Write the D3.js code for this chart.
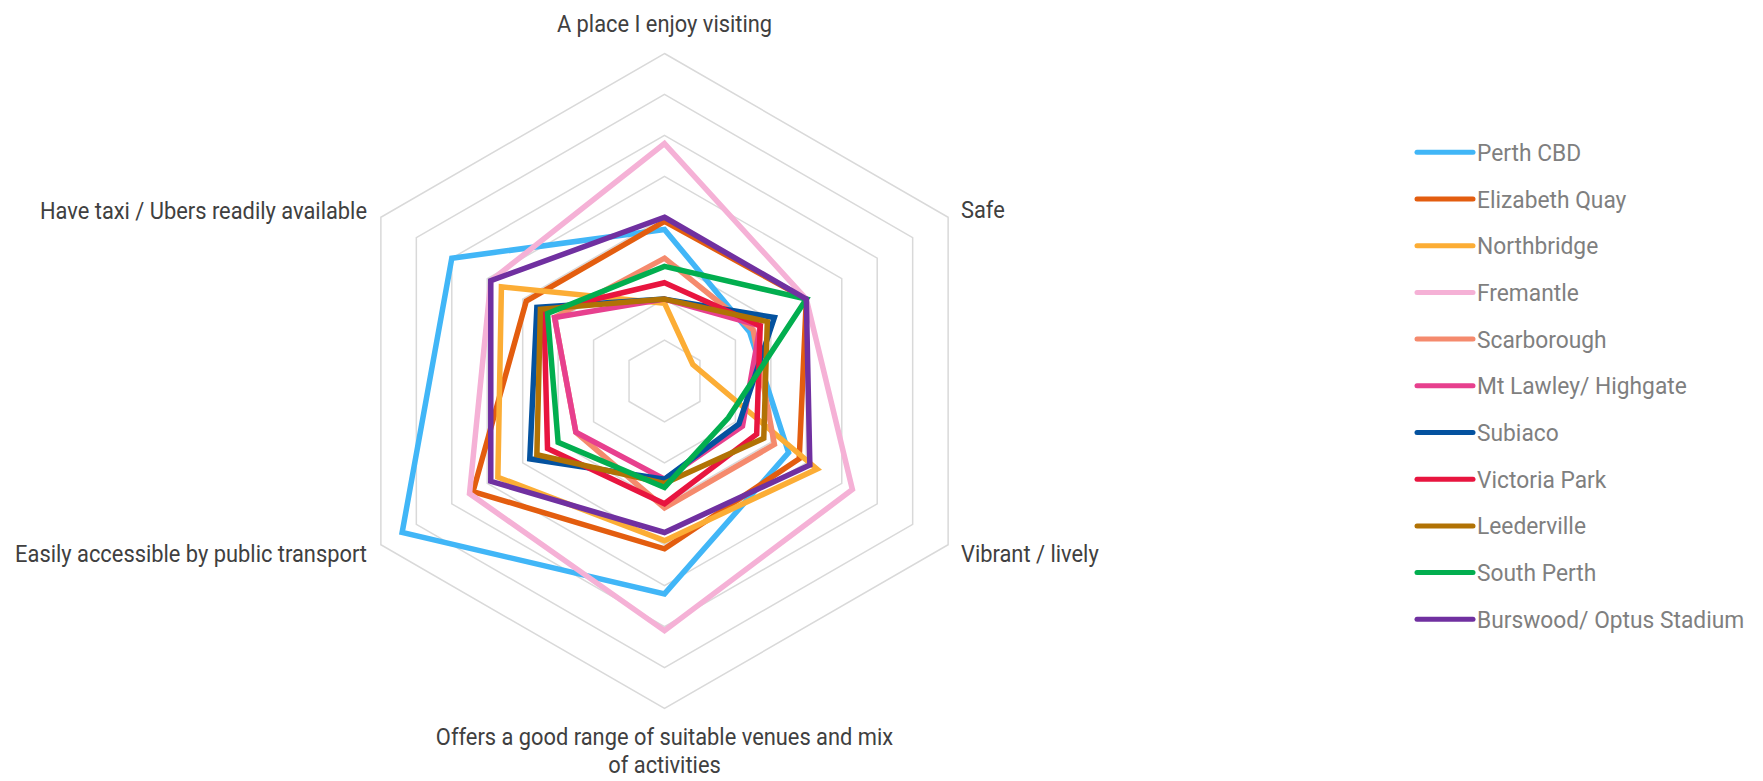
<!DOCTYPE html>
<html lang="en"><head>
<meta charset="utf-8"/>
<title>Radar chart</title>
<script src="https://d3js.org/d3.v7.min.js"></script>
<style>
    body { width: 1763px; height: 781px; margin: 0; padding: 0; background: #fff;
        font-family: 'Liberation Sans Narrow', 'Arial Narrow', 'Roboto', sans-serif; }
    #chart svg { display: block; }
</style>
</head>
<body>
<div id="chart"></div>
<script>
    // Axes, clockwise from the top
    const axes = [
        "A place I enjoy visiting",
        "Safe",
        "Vibrant / lively",
        "Offers a good range of suitable venues and mix of activities",
        "Easily accessible by public transport",
        "Have taxi / Ubers readily available"
    ];
    const ticks = [10, 20, 30, 40, 50, 60, 70, 80];

    const seriesNames = ["Perth CBD", "Elizabeth Quay", "Northbridge", "Fremantle", "Scarborough",
        "Mt Lawley/ Highgate", "Subiaco", "Victoria Park", "Leederville", "South Perth", "Burswood/ Optus Stadium"];
    const colors = ["#41b6f7", "#e35d0f", "#fcad35", "#f5b1d6", "#f58a6d",
        "#e7408e", "#04529f", "#e8153f", "#b17204", "#02ae4f", "#7030a0"];

    // one array per series, same order as axes
    const perthCbd      = [37, 24, 35, 52, 74, 60];
    const elizabethQuay = [39, 40, 38, 41, 54, 39];
    const northbridge   = [19,  8, 43, 39, 47, 46];
    const fremantle     = [58, 40, 53, 61, 55, 49];
    const scarborough   = [30, 25, 31, 31, 25, 31];
    const mtLawley      = [20, 27, 22, 24, 25, 31];
    const subiaco       = [20, 31, 21, 24, 38, 36];
    const victoriaPark  = [24, 27, 26, 30, 33, 34];
    const leederville   = [20, 29, 28, 25, 36, 35];
    const southPerth    = [28, 40, 18, 26, 30, 33];
    const burswood      = [40, 40, 41, 37, 49, 49];

    const values = [perthCbd, elizabethQuay, northbridge, fremantle, scarborough,
        mtLawley, subiaco, victoriaPark, leederville, southPerth, burswood];

    const W = 1763, H = 781;
    const cx = 664.5, cy = 381, R = 327.5;

    const svg = d3.select("#chart").append("svg")
        .attr("width", W).attr("height", H);

    const r = d3.scaleLinear().domain([0, 80]).range([0, R]);
    const angle = d3.scaleLinear().domain([0, axes.length]).range([0, 2 * Math.PI]);

    const g = svg.append("g").attr("transform", `translate(${cx},${cy})`);

    const radial = d3.lineRadial()
        .angle((d, i) => angle(i))
        .radius(d => r(d))
        .curve(d3.curveLinearClosed);

    // grid rings
    g.selectAll(".ring")
        .data(ticks)
        .enter().append("path")
        .attr("class", "ring")
        .attr("d", t => radial(axes.map(() => t)))
        .attr("fill", "none")
        .attr("stroke", "#d9d9d9")
        .attr("stroke-width", 1.5);

    // series
    g.selectAll(".series")
        .data(values)
        .enter().append("path")
        .attr("class", "series")
        .attr("d", d => radial(d))
        .attr("fill", "none")
        .attr("stroke", (d, i) => colors[i])
        .attr("stroke-width", 5.5)
        .attr("stroke-linejoin", "miter");

    // axis labels (narrowed a little to look like the condensed original font)
    const narrow = 0.93;
    const lab = svg.append("g")
        .style("font-size", "23.5px")
        .style("fill", "#404040");

    function label(x, y, anchor, lines) {
        const t = lab.append("text")
            .attr("transform", `translate(${x},${y}) scale(${narrow},1)`)
            .attr("text-anchor", anchor);
        lines.forEach((s, i) => t.append("tspan").attr("x", 0).attr("dy", i ? 28 : 0).text(s));
    }

    label(cx, 32, "middle", [axes[0]]);
    label(961, 218, "start", [axes[1]]);
    label(961, 562, "start", [axes[2]]);
    label(cx, 745, "middle", ["Offers a good range of suitable venues and mix", "of activities"]);
    label(367, 562, "end", [axes[4]]);
    label(367, 219, "end", [axes[5]]);

    // legend
    const legY = d3.scaleLinear().domain([0, 1]).range([152.3, 199]);
    const leg = svg.append("g");
    const item = leg.selectAll(".item")
        .data(seriesNames)
        .enter().append("g")
        .attr("class", "item")
        .attr("transform", (d, i) => `translate(1417,${legY(i)})`);
    item.append("line")
        .attr("x1", 0).attr("x2", 56)
        .attr("stroke", (d, i) => colors[i])
        .attr("stroke-width", 5)
        .attr("stroke-linecap", "round");
    item.append("text")
        .attr("transform", `translate(60,8.5) scale(${narrow},1)`)
        .style("font-size", "24.5px")
        .style("fill", "#7f7f7f")
        .text(d => d);
</script>
</body></html>
